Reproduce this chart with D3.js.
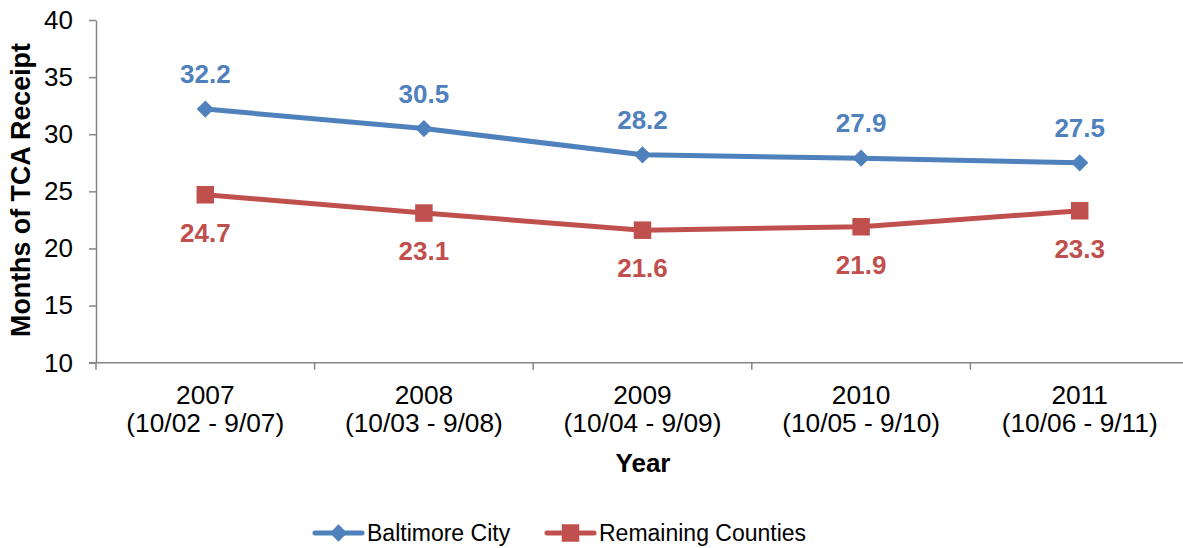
<!DOCTYPE html>
<html><head><meta charset="utf-8">
<script src="https://cdn.jsdelivr.net/npm/d3@7"></script>
<style>body{margin:0;background:#fff}svg{display:block;font-family:"Liberation Sans",Arial,sans-serif}</style>
</head><body><svg id="c" width="1183" height="548"></svg>
<script>
const years = ["2007","2008","2009","2010","2011"];
const periods = ["(10/02 - 9/07)","(10/03 - 9/08)","(10/04 - 9/09)","(10/05 - 9/10)","(10/06 - 9/11)"];
const baltimore = [32.2, 30.5, 28.2, 27.9, 27.5];
const remaining = [24.7, 23.1, 21.6, 21.9, 23.3];
const yTicks = [10, 15, 20, 25, 30, 35, 40];
const seriesNames = ["Baltimore City", "Remaining Counties"];

const blue = "#4F81BD", red = "#C0504D", axisC = "#878787";
const svg = d3.select("#c");
const x = d3.scaleBand().domain(years).range([96, 1189]);
const y = d3.scaleLinear().domain([10, 40]).range([362.7, 20]);

// y axis
const gy = svg.append("g").attr("transform","translate(96,0)")
  .call(d3.axisLeft(y).tickValues(yTicks).tickSize(7).tickPadding(16).tickSizeOuter(0));
gy.select(".domain").attr("stroke", axisC).attr("stroke-width", 1.5);
gy.selectAll(".tick line").attr("stroke", axisC).attr("stroke-width", 1.5);
gy.selectAll(".tick text").attr("font-size", 26).attr("fill","#000").attr("font-family",null);

// x axis
const gx = svg.append("g").attr("transform","translate(0,362.7)");
gx.append("line").attr("x1", 89).attr("x2", 1183).attr("y1",0).attr("y2",0).attr("stroke", axisC).attr("stroke-width",1.5);
const bounds = years.map(d => x(d)).concat([x(years[years.length-1]) + x.bandwidth()]);
gx.selectAll("line.t").data(bounds).join("line").attr("class","t")
  .attr("x1", d=>d).attr("x2", d=>d).attr("y1",0).attr("y2",7).attr("stroke", axisC).attr("stroke-width",1.5);
const cat = svg.append("g").selectAll("text").data(years).join("text")
  .attr("x", d => x(d) + x.bandwidth()/2).attr("text-anchor","middle").attr("font-size",26.3);
cat.append("tspan").attr("x", d => x(d) + x.bandwidth()/2).attr("y", 404).text(d=>d);
cat.append("tspan").attr("x", d => x(d) + x.bandwidth()/2).attr("y", 432).text((d,i)=>periods[i]);

// titles
svg.append("text").attr("x", 643).attr("y", 472).attr("text-anchor","middle").attr("font-size",26).attr("font-weight","bold").text("Year");
svg.append("text").attr("transform","translate(30,190) rotate(-90)").attr("text-anchor","middle").attr("font-size",26.8).attr("font-weight","bold").text("Months of TCA Receipt");

const cx = d => x(d) + x.bandwidth()/2;
const line = d3.line().x((v,i) => cx(years[i])).y(v => y(v));

function drawSeries(vals, color, sym, size, labelDy) {
  svg.append("path").datum(vals).attr("d", line).attr("fill","none").attr("stroke", color).attr("stroke-width", 5).attr("stroke-linejoin","round");
  svg.append("g").selectAll("path").data(vals).join("path")
    .attr("transform",(v,i)=>`translate(${cx(years[i])},${y(v)})`)
    .attr("d", d3.symbol().type(sym).size(size)).attr("fill", color);
  svg.append("g").selectAll("text").data(vals).join("text")
    .attr("x",(v,i)=>cx(years[i])).attr("y", v => y(v) + labelDy)
    .attr("text-anchor","middle").attr("font-size",26).attr("font-weight","bold").attr("fill", color)
    .text(v => d3.format(".1f")(v));
}
drawSeries(baltimore, blue, d3.symbolDiamond2, 190, -26);
drawSeries(remaining, red, d3.symbolSquare2, 390, 47);

// legend
const lg = svg.append("g");
const items = [
  {name: seriesNames[0], color: blue, sym: d3.symbolDiamond2, size: 190, x0: 315},
  {name: seriesNames[1], color: red, sym: d3.symbolSquare2, size: 390, x0: 547}
];
items.forEach(it => {
  lg.append("line").attr("x1", it.x0).attr("x2", it.x0+47).attr("y1",533).attr("y2",533).attr("stroke", it.color).attr("stroke-width",5).attr("stroke-linecap","round");
  lg.append("path").attr("transform",`translate(${it.x0+23.5},533)`).attr("d", d3.symbol().type(it.sym).size(it.size)).attr("fill", it.color);
  lg.append("text").attr("x", it.x0+52).attr("y", 541).attr("font-size",23).text(it.name);
});
</script></body></html>
